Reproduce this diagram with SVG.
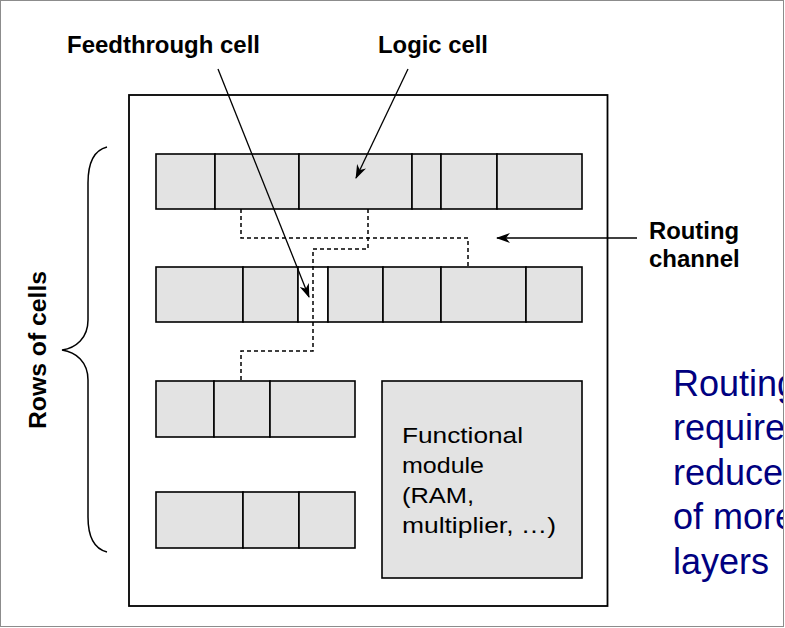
<svg xmlns="http://www.w3.org/2000/svg" width="785" height="628" viewBox="0 0 785 628">
<style>
.cell{fill:#e3e3e3;stroke:#000;stroke-width:1.6}
.ft{fill:#fff;stroke:#000;stroke-width:1.6}
.lbl{font-family:"Liberation Sans",Arial,sans-serif;font-weight:bold;font-size:24px;fill:#000}
.mod{font-family:"Liberation Sans",Arial,sans-serif;font-size:22px;fill:#000}
.note{font-family:"Liberation Sans",Arial,sans-serif;font-size:36px;fill:#000080}
.wire{fill:none;stroke:#000;stroke-width:1.5;stroke-dasharray:4 3}
.arr{fill:none;stroke:#000;stroke-width:1.3;marker-end:url(#ah)}
</style>
<defs>
<marker id="ah" viewBox="0 0 14 10" refX="13" refY="5" markerWidth="14" markerHeight="10" markerUnits="userSpaceOnUse" orient="auto">
<path d="M0,0 L14,5 L0,10 L4,5 z" fill="#000"/>
</marker>
<clipPath id="clipR"><rect x="0" y="0" width="783" height="628"/></clipPath>
</defs>
<rect x="0" y="0" width="785" height="628" fill="#fff"/>
<rect x="0.5" y="0.5" width="783" height="626" fill="none" stroke="#8c8c8c" stroke-width="1"/>

<g id="chip">
<rect x="129" y="95" width="478.5" height="511" fill="#fff" stroke="#000" stroke-width="1.8"/>
</g>

<g id="row1">
<rect class="cell" x="156" y="154" width="59" height="55"/>
<rect class="cell" x="215" y="154" width="84" height="55"/>
<rect class="cell" x="299" y="154" width="113" height="55"/>
<rect class="cell" x="412" y="154" width="29" height="55"/>
<rect class="cell" x="441" y="154" width="56" height="55"/>
<rect class="cell" x="497" y="154" width="85" height="55"/>
</g>

<g id="row2">
<rect class="cell" x="156" y="267" width="87" height="55"/>
<rect class="cell" x="243" y="267" width="55" height="55"/>
<rect class="ft" x="298" y="267" width="30" height="55"/>
<rect class="cell" x="328" y="267" width="55" height="55"/>
<rect class="cell" x="383" y="267" width="58" height="55"/>
<rect class="cell" x="441" y="267" width="85" height="55"/>
<rect class="cell" x="526" y="267" width="56" height="55"/>
</g>

<g id="row3">
<rect class="cell" x="156" y="381" width="58" height="56"/>
<rect class="cell" x="214" y="381" width="56" height="56"/>
<rect class="cell" x="270" y="381" width="85" height="56"/>
</g>

<g id="row4">
<rect class="cell" x="156" y="492" width="87" height="56"/>
<rect class="cell" x="243" y="492" width="56" height="56"/>
<rect class="cell" x="299" y="492" width="56" height="56"/>
</g>

<g id="functional-module">
<rect class="cell" x="382" y="381" width="200" height="197"/>
<text class="mod"><tspan x="402" y="443" textLength="121" lengthAdjust="spacingAndGlyphs">Functional</tspan><tspan x="402" y="473" textLength="82" lengthAdjust="spacingAndGlyphs">module</tspan><tspan x="402" y="503" textLength="72" lengthAdjust="spacingAndGlyphs">(RAM,</tspan><tspan x="402" y="533" textLength="154" lengthAdjust="spacingAndGlyphs">multiplier, …)</tspan></text>
</g>

<g id="label-feedthrough"><text class="lbl" x="67" y="53" textLength="193" lengthAdjust="spacingAndGlyphs">Feedthrough cell</text></g>
<g id="label-logic"><text class="lbl" x="378" y="53" textLength="110" lengthAdjust="spacingAndGlyphs">Logic cell</text></g>
<g id="label-routing"><text class="lbl"><tspan x="649" y="239" textLength="90" lengthAdjust="spacingAndGlyphs">Routing</tspan><tspan x="649" y="267">channel</tspan></text></g>

<g id="rows-brace">
<path d="M107,147 C95,150 88,162 88,183 L88,320 C88,338 76,348 62,350 C76,352 88,362 88,380 L88,517 C88,538 95,549 107,552" fill="none" stroke="#000" stroke-width="1.5"/>
<text class="lbl" transform="translate(46,350) rotate(-90)" text-anchor="middle" font-size="26" textLength="158" lengthAdjust="spacingAndGlyphs">Rows of cells</text>
</g>

<g id="note" clip-path="url(#clipR)">
<text class="note"><tspan x="673" y="396">Routing</tspan><tspan x="673" y="440">require</tspan><tspan x="673" y="485">reduce</tspan><tspan x="673" y="529">of more</tspan><tspan x="673" y="574">layers</tspan></text>
</g>

<g id="connectors">
<path class="wire" d="M241,209 V238 H468 V267"/>
<path class="wire" d="M368,209 V249 H313 V351 H241 V381"/>
<line class="arr" x1="218" y1="69" x2="309" y2="297"/>
<line class="arr" x1="408" y1="69" x2="356" y2="178"/>
<line class="arr" x1="637" y1="238" x2="497" y2="238"/>
</g>
</svg>
